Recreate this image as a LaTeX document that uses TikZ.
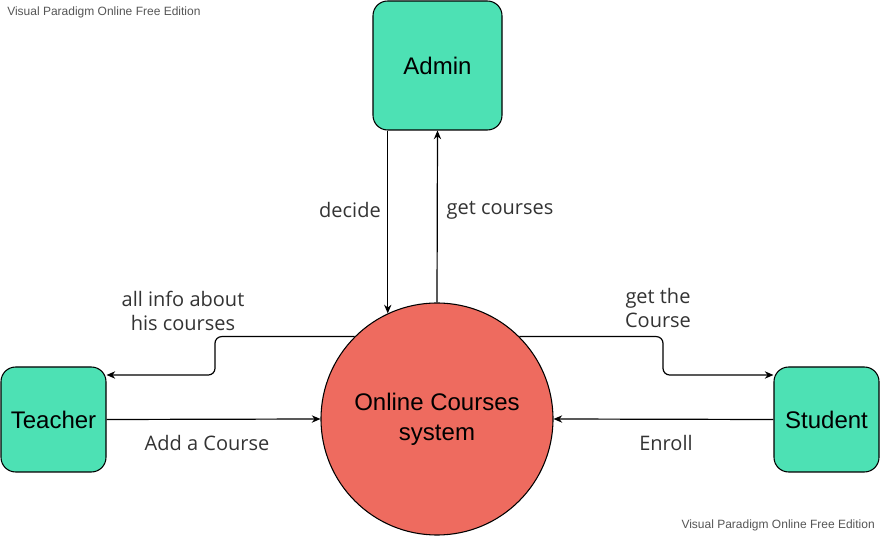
\documentclass[tikz,border=0pt]{standalone}
\usepackage{fontspec}
\setmainfont{Open Sans}
\newfontfamily\boxfont{Liberation Sans}
\usetikzlibrary{arrows.meta}
\definecolor{boxgreen}{HTML}{4DE1B4}
\definecolor{sysred}{HTML}{EE6B5F}
\definecolor{labelgray}{HTML}{333333}
\definecolor{markgray}{HTML}{555555}
\tikzset{>={Stealth[length=6.5pt,width=5.5pt]},
  actor/.style={draw,fill=boxgreen,rounded corners=11pt,line width=0.8pt,
    minimum width=78.75pt,minimum height=78.75pt,font=\boxfont\fontsize{18}{21}\selectfont},
  process/.style={circle,draw,fill=sysred,line width=0.8pt,minimum size=174pt,inner sep=0pt,
    align=center,font=\boxfont\fontsize{18}{22.5}\selectfont},
  flow/.style={->,line width=0.9pt,rounded corners=5pt},
  flowlabel/.style={text=labelgray,font=\fontsize{15}{18}\selectfont,align=center},
  watermark/.style={text=markgray,font=\boxfont\fontsize{9}{11}\selectfont,inner sep=0pt}}

\begin{document}
\begin{tikzpicture}[x=0.75pt,y=-0.75pt]
\useasboundingbox (0,0) rectangle (886,541);
% watermarks
\node[watermark,anchor=west] (wmtop) at (7,12) {Visual Paradigm Online Free Edition};
\node[watermark,anchor=east] (wmbot) at (875,525) {Visual Paradigm Online Free Edition};
% entities and the process
\node[actor,minimum width=96.75pt,minimum height=96.75pt] (admin) at (437.5,65.5) {Admin};
\node[actor] (teacher) at (53.5,419.5) {Teacher};
\node[actor] (student) at (826.5,419.5) {Student};
\node[process] (sys) at (437,419) {Online Courses\\system};
% bends
\coordinate (kneeL) at (215,375);
\coordinate (kneeR) at (663,375);
% flows
\draw[flow] (admin.south -| sys.115) -- (sys.115);
\draw[flow] (sys.north) -- (admin.south);
\draw[flow] (sys.135) -| (kneeL) -- (teacher.east |- kneeL);
\draw[flow] (sys.45) -| (kneeR) -- (student.west |- kneeR);
\draw[flow] (teacher.east) -- (sys.west);
\draw[flow] (student.west) -- (sys.east);
% flow labels
\node[flowlabel] (ldecide) at (350,210) {decide};
\node[flowlabel] (lget) at (500,210) {get courses};
\node[flowlabel] (linfo) at (183,311) {all info about\\his courses};
\node[flowlabel] (lcourse) at (658,308) {get the\\Course};
\node[flowlabel] (ladd) at (207,443) {Add a Course};
\node[flowlabel] (lenroll) at (666,443) {Enroll};
\end{tikzpicture}
\end{document}
